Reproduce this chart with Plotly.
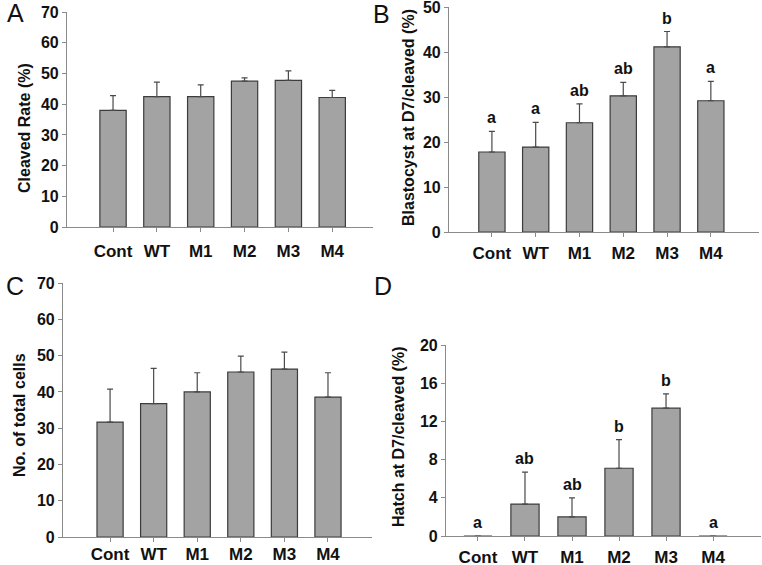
import plotly.graph_objects as go

categories = ["Cont", "WT", "M1", "M2", "M3", "M4"]

cleaved_rate = [38.0, 42.5, 42.5, 47.5, 47.8, 42.2]
cleaved_err_top = [42.8, 47.2, 46.3, 48.6, 50.9, 44.5]

blasto_rate = [17.8, 18.9, 24.3, 30.3, 41.2, 29.2]
blasto_err_top = [22.4, 24.4, 28.5, 33.3, 44.6, 33.5]
blasto_letters = ["a", "a", "ab", "ab", "b", "a"]

total_cells = [31.7, 36.8, 40.0, 45.5, 46.3, 38.6]
cells_err_top = [40.8, 46.5, 45.3, 49.9, 51.0, 45.3]

hatch_rate = [0.0, 3.35, 2.0, 7.1, 13.4, 0.0]
hatch_err_top = [0.0, 6.7, 4.0, 10.1, 14.9, 0.0]
hatch_letters = ["a", "ab", "ab", "b", "b", "a"]

ticks_70 = [0, 10, 20, 30, 40, 50, 60, 70]
ticks_50 = [0, 10, 20, 30, 40, 50]
ticks_20 = [0, 4, 8, 12, 16, 20]

panels = [
    dict(name="A", vals=cleaved_rate, top=cleaved_err_top, letters=None,
         title="Cleaved Rate (%)", yr=[0, 70.05], tv=ticks_70, so=4,
         xd=[67/762, 373/762], yd=[1-227/565, 1-12/565], xr=[-1.05, 5.93],
         tx=24, ty=128, lx=15, ly=13),
    dict(name="B", vals=blasto_rate, top=blasto_err_top, letters=blasto_letters,
         title="Blastocyst at D7/cleaved (%)", yr=[0, 50.05], tv=ticks_50, so=1,
         xd=[449/762, 759/762], yd=[1-232/565, 1-7/565], xr=[-0.98, 6.10],
         tx=409, ty=118, lx=381, ly=14),
    dict(name="C", vals=total_cells, top=cells_err_top, letters=None,
         title="No. of total cells", yr=[0, 70.05], tv=ticks_70, so=-3,
         xd=[63/762, 372/762], yd=[1-537/565, 1-283/565], xr=[-1.08, 6.01],
         tx=19, ty=415, lx=15, ly=286),
    dict(name="D", vals=hatch_rate, top=hatch_err_top, letters=hatch_letters,
         title="Hatch at D7/cleaved (%)", yr=[0, 20.02], tv=ticks_20, so=1,
         xd=[446/762, 761/762], yd=[1-536/565, 1-345/565], xr=[-0.68, 6.02],
         tx=398, ty=437, lx=383, ly=286),
]

fig = go.Figure()
annotations = []
layout = {}
font_family = "Liberation Sans, Arial, sans-serif"

for i, p in enumerate(panels):
    n = "" if i == 0 else str(i + 1)
    xa, ya = "x" + n, "y" + n
    plus = [t - v for t, v in zip(p["top"], p["vals"])]
    fig.add_trace(go.Bar(
        x=categories, y=p["vals"], xaxis=xa, yaxis=ya, width=0.6,
        marker=dict(color="#a3a3a3", line=dict(color="#3c3c3c", width=1.2)),
        error_y=dict(type="data", symmetric=False, array=plus,
                     arrayminus=[0]*len(plus), color="#4a4a4a",
                     thickness=1.2, width=3, visible=True),
        showlegend=False, hoverinfo="skip",
    ))
    if p["letters"]:
        for c, t, lab in zip(categories, p["top"], p["letters"]):
            annotations.append(dict(
                x=c, y=t, xref=xa, yref=ya, text="<b>%s</b>" % lab,
                showarrow=False, yanchor="bottom", yshift=3,
                font=dict(size=16, color="#111", family=font_family)))
    layout["xaxis" + n] = dict(
        domain=p["xd"], anchor=ya, range=p["xr"], type="category",
        tickvals=categories, ticktext=["<b>%s</b>" % c for c in categories],
        showline=True, linecolor="#8a8a8a", linewidth=1.2,
        ticks="outside", ticklen=4, tickcolor="#8a8a8a",
        ticklabelstandoff=p["so"], automargin=False, ticklabeloverflow="allow",
        tickfont=dict(size=17, color="#111", family=font_family),
        showgrid=False, zeroline=False, fixedrange=True)
    layout["yaxis" + n] = dict(
        domain=p["yd"], anchor=xa, range=p["yr"],
        tickvals=p["tv"], ticktext=["<b>%d</b>" % v for v in p["tv"]],
        showline=True, linecolor="#8a8a8a", linewidth=1.2,
        ticks="outside", ticklen=4, tickcolor="#8a8a8a", automargin=False,
        ticklabeloverflow="allow",
        tickfont=dict(size=16, color="#111", family=font_family),
        showgrid=False, zeroline=False, fixedrange=True)
    annotations.append(dict(
        x=p["tx"]/762, y=1-p["ty"]/565, xref="paper", yref="paper",
        text="<b>%s</b>" % p["title"], textangle=-90, showarrow=False,
        xanchor="center", yanchor="middle",
        font=dict(size=16, color="#111", family=font_family)))
    annotations.append(dict(
        x=p["lx"]/762, y=1-p["ly"]/565, xref="paper", yref="paper",
        text=p["name"], showarrow=False, xanchor="center", yanchor="middle",
        font=dict(size=25, color="#111", family=font_family)))

fig.update_layout(
    width=762, height=565, margin=dict(l=0, r=0, t=0, b=0),
    paper_bgcolor="white", plot_bgcolor="white",
    annotations=annotations, bargap=0.4, **layout)

fig.write_html(
    "out.html",
    config={"displayModeBar": False},
    post_script="document.body.style.margin='0';document.body.style.padding='0';"
                "document.body.style.overflow='hidden';")
